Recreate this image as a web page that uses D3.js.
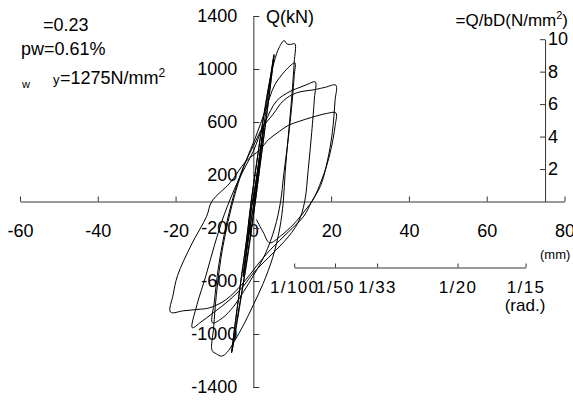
<!DOCTYPE html>
<html>
<head>
<meta charset="utf-8">
<script src="https://cdn.jsdelivr.net/npm/d3@7"></script>
<style>
  body { margin: 0; background: #fff; }
  svg { font-family: "Liberation Sans", Arial, sans-serif; }
  .curve { fill: none; stroke: #000; stroke-width: 1; }
  .axis path, .axis line { stroke: #333; }
  .axis text { font-size: 18px; fill: #000; }
</style>
</head>
<body>
<div class="chart"></div>
<script>
const WIDTH = 573;
const HEIGHT = 401;

// axis ticks
const dispTicks = [-60, -40, -20, 0, 20, 40, 60, 80];
const loadTicks = [-1400, -1000, -600, -200, 200, 600, 1000, 1400];
const tauTicks = [2, 4, 6, 8, 10];
const radTicks = [1 / 100, 1 / 50, 1 / 33, 1 / 20, 1 / 15];
const radLabels = ['1/100', '1/50', '1/33', '1/20', '1/15'];

const SECTION_AREA = 122500;   // bD in mm2 (Q = tau * bD)
const SPAN = 1050;             // mm per rad

// hysteresis, [displacement mm, Q kN], in loading order
const loopsSmall = [[0, 0], [1.3, 280], [2.6, 560], [1.8, 350], [0.6, 60], [-0.5, -130], [-1.5, -330],
  [-2.6, -570], [-1.8, -370], [-0.6, -60], [0.5, 120], [1.5, 330], [2.6, 550], [1.8, 360], [0.5, 50],
  [-0.8, -180], [-2.6, -560], [-1.7, -350], [-0.4, -40]];
const loops5mm = [[0.8, 160], [2, 420], [3.5, 740], [5.3, 1110], [4.6, 930], [3.2, 600], [1.6, 250],
  [0.6, 20], [-0.6, -240], [-2, -520], [-3.8, -820], [-5.6, -1142], [-4.8, -950], [-3.4, -640],
  [-1.8, -300], [-0.7, -30], [0.5, 220], [2, 520], [3.6, 800], [5.3, 1100], [4.5, 900], [3, 560],
  [1.5, 220], [0.4, -20], [-1, -300], [-2.4, -580], [-4, -880], [-5.5, -1130], [-4.7, -930],
  [-3.3, -620], [-1.6, -260], [-0.5, 10]];
const loops10mm = [[0.8, 280], [2.4, 600], [4, 880], [5.4, 1060], [6.6, 1160], [7.9, 1215], [8.6, 1190],
  [9.2, 1185], [10, 1188], [10.7, 1190], [10.5, 1050], [9.9, 800], [9, 500], [8.2, 230], [7.7, 0],
  [6.8, -200], [5, -420], [2.5, -620], [0, -780], [-2.5, -930], [-5, -1060], [-6.8, -1140],
  [-8.2, -1167], [-9.5, -1150], [-10.6, -1125], [-10.2, -950], [-9.5, -700], [-8.3, -420],
  [-6.5, -150], [-4.5, 80], [-2, 300], [0.5, 480], [3, 680], [5.5, 880], [8, 980], [9.7, 1030],
  [10.7, 1047], [10.5, 950], [10, 760], [9, 480], [7.8, 200], [7, 0], [5.5, -200], [3, -400],
  [0, -560], [-2.5, -680], [-5, -790], [-8, -880], [-10.5, -916], [-10, -750], [-9, -500],
  [-7.5, -250], [-5.5, 0], [-3, 230], [0, 420], [3, 600], [6, 760], [9.4, 830], [12, 862],
  [14, 885], [15.9, 903]];
const loops15mm = [[15.7, 780], [15, 520], [14.1, 240], [13.2, 0], [11.5, -160], [8, -300], [4, -420],
  [0, -540], [-2.6, -640], [-6, -740], [-10.3, -840], [-13.5, -910], [-15.7, -953], [-14.5, -780],
  [-12.2, -560], [-10, -330], [-7.5, -100], [-4, 150], [0, 380], [2.5, 560], [5.1, 660], [7.7, 760],
  [11.1, 820], [15.9, 845], [18.5, 862], [21.2, 878]];
const loops21mm = [[21, 760], [20.3, 520], [19, 300], [17.3, 120], [15, 0], [13, -110], [9, -230],
  [4.5, -360], [1, -480], [-2.6, -614], [-7, -740], [-11.2, -802], [-14.5, -815], [-18, -825],
  [-21.3, -835], [-20.6, -700], [-19.5, -560], [-16, -330], [-12, -111], [-10.7, 0], [-6, 141],
  [-2, 300], [1.7, 392], [4, 470], [6.8, 531], [9, 575], [11.9, 606], [15, 635], [18.8, 664],
  [21.2, 669], [21, 568], [20, 400], [18.8, 266], [17, 120], [15.4, 15], [13.5, -60], [10.4, -170],
  [7, -260], [4.2, -312], [2.5, -230], [0.8, -136]];

const hysteresis = [].concat(loopsSmall, loops5mm, loops10mm, loops15mm, loops21mm);

const xScale = d3.scaleLinear().domain([-60, 80]).range([20, 564.5]);
const yScale = d3.scaleLinear().domain([-1400, 1400]).range([387, 16]);
const tauScale = d3.scaleLinear().domain([0, 10])
  .range([yScale(0), yScale(10 * SECTION_AREA / 1000)]);
const radScale = d3.scaleLinear().domain([1 / 100, 1 / 15])
  .range([xScale(SPAN / 100), xScale(SPAN / 15)]);

const plain = d => String(d);

const svg = d3.select('.chart').append('svg')
  .attr('width', WIDTH)
  .attr('height', HEIGHT);

// x axis (mm)
svg.append('g')
  .attr('class', 'axis')
  .attr('transform', 'translate(0,' + yScale(0) + ')')
  .call(d3.axisBottom(xScale).tickValues(dispTicks).tickFormat(plain)
    .tickSizeInner(-5).tickSizeOuter(0).tickPadding(23));

// y axis (kN), ticks point right, labels left
svg.append('g')
  .attr('class', 'axis')
  .attr('transform', 'translate(' + xScale(0) + ',0)')
  .call(d3.axisLeft(yScale).tickValues(loadTicks).tickFormat(plain)
    .tickSizeInner(-6).tickSizeOuter(0).tickPadding(16));

// tau axis on the right
svg.append('g')
  .attr('class', 'axis')
  .attr('transform', 'translate(' + xScale(75) + ',0)')
  .call(d3.axisRight(tauScale).tickValues(tauTicks).tickFormat(plain)
    .tickSizeInner(-5).tickSizeOuter(0).tickPadding(3));

// drift angle axis
svg.append('g')
  .attr('class', 'axis rad')
  .attr('transform', 'translate(0,267.5)')
  .call(d3.axisBottom(radScale).tickValues(radTicks).tickSizeInner(-4).tickSizeOuter(0).tickPadding(13)
    .tickFormat((d, i) => radLabels[i]))
  .selectAll('text')
  .style('font-size', '17px')
  .style('letter-spacing', '1.4px');

// the curve
const line = d3.line()
  .x(d => xScale(d[0]))
  .y(d => yScale(d[1]))
  .curve(d3.curveCatmullRom.alpha(0.5));

svg.append('path')
  .datum(hysteresis)
  .attr('class', 'curve')
  .attr('d', line);

// labels
svg.append('text').attr('x', 266).attr('y', 23).style('font-size', '18px').text('Q(kN)');

const tauLabel = svg.append('text').attr('x', 568).attr('y', 26)
  .attr('text-anchor', 'end').style('font-size', '17px');
tauLabel.append('tspan').text('=Q/bD(N/mm');
tauLabel.append('tspan').attr('dy', -7).style('font-size', '11px').text('2');
tauLabel.append('tspan').attr('dy', 7).text(')');

svg.append('text').attr('x', 540).attr('y', 259).style('font-size', '13px').text('(mm)');
svg.append('text').attr('x', 525).attr('y', 311).attr('text-anchor', 'middle')
  .style('font-size', '17px').text('(rad.)');

svg.append('text').attr('x', 43).attr('y', 31).style('font-size', '18px').text('=0.23');
svg.append('text').attr('x', 21).attr('y', 55).style('font-size', '18px').text('pw=0.61%');
svg.append('text').attr('x', 22).attr('y', 88).style('font-size', '11px').text('w');
svg.append('text').attr('x', 53).attr('y', 84).style('font-size', '13px').text('y');
const fyLabel = svg.append('text').attr('x', 60).attr('y', 84).style('font-size', '18px');
fyLabel.append('tspan').text('=1275N/mm');
fyLabel.append('tspan').attr('dy', -7).style('font-size', '12px').text('2');
</script>
</body>
</html>
